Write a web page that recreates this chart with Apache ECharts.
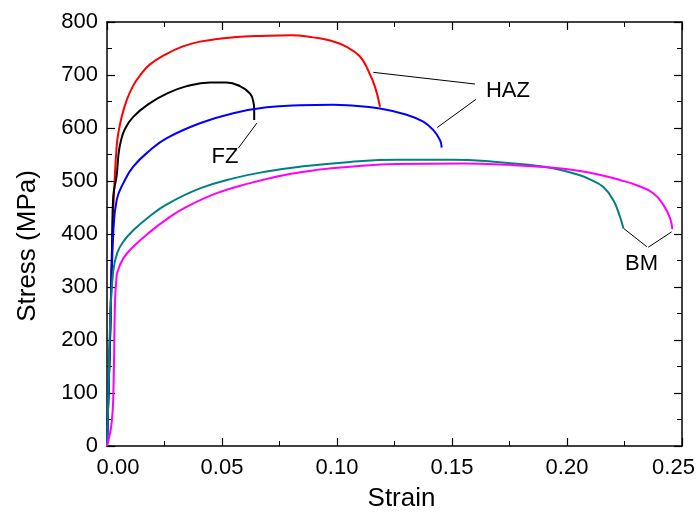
<!DOCTYPE html>
<html>
<head>
<meta charset="utf-8">
<script src="https://cdn.jsdelivr.net/npm/echarts@6/dist/echarts.min.js"></script>
<style>html,body{margin:0;padding:0;background:#fff}#c{width:698px;height:515px}</style>
</head>
<body>
<div id="c"></div>
<script>
// ---- data (strain, stress MPa) ----
var hazRed = [[0,0],[0.0006,100],[0.0013,200],[0.0025,420],[0.0033,500],[0.0042,565],[0.0049,590],[0.0064,621],[0.0086,653],[0.0114,680],[0.0143,699],[0.0187,720],[0.026,740],[0.0330,754],[0.0404,763],[0.0549,771],[0.0694,774],[0.080,775],[0.0896,771],[0.097,765],[0.1042,753],[0.110,735],[0.1135,709],[0.1165,678],[0.1187,640]];
var fzBlack = [[0,0],[0.0013,200],[0.0022,380],[0.0027,470],[0.0042,510],[0.0050,550],[0.0060,575],[0.0078,598],[0.0114,621],[0.0187,647],[0.026,665],[0.0347,679],[0.0448,686],[0.052,686],[0.0578,679],[0.0622,665],[0.0636,650],[0.0640,635],[0.0640,615]];
var hazBlue = [[0,0],[0.0013,200],[0.0027,400],[0.0042,464],[0.0071,496],[0.0114,527],[0.0187,558],[0.026,581],[0.0404,609],[0.0549,628],[0.0694,639],[0.0839,643],[0.0983,644],[0.1042,643],[0.1187,637],[0.1303,625],[0.1375,612],[0.1419,596],[0.1448,577],[0.1455,563]];
var bmTeal = [[0,0],[0.0006,100],[0.0015,250],[0.0027,330],[0.0045,365],[0.0075,388],[0.0114,407],[0.0187,434],[0.026,456],[0.0404,486],[0.0549,505],[0.0694,518],[0.0839,527],[0.1057,536],[0.1259,540],[0.1504,540],[0.1694,536],[0.1839,530],[0.1939,524],[0.2057,511],[0.2100,503],[0.2157,489],[0.2201,464],[0.2230,433],[0.2245,411]];
var bmMagenta = [[0,0],[0.0013,24],[0.0020,43],[0.0027,87],[0.0035,275],[0.0040,310],[0.0045,328],[0.0071,354],[0.0114,376],[0.0187,404],[0.026,428],[0.0332,448],[0.0477,477],[0.0622,496],[0.0767,511],[0.0912,521],[0.1057,527],[0.126,532],[0.1548,533],[0.1765,530],[0.1912,526],[0.2057,519],[0.2160,510],[0.2230,502],[0.2303,492],[0.2375,477],[0.2419,455],[0.2448,430],[0.2458,409]];
// leader lines for annotations
var leaders = [
  [[0.0651,609],[0.0571,562]],
  [[0.1158,705],[0.1600,683]],
  [[0.1436,601],[0.1604,654]],
  [[0.2245,411],[0.2347,376]],
  [[0.2455,404],[0.2353,375]]
];
var annotations = [[0.0513,546,'FZ'],[0.1743,670,'HAZ'],[0.2324,343,'BM']];
var xTicks = [0, 0.05, 0.10, 0.15, 0.20, 0.25];
var yTicks = [0, 100, 200, 300, 400, 500, 600, 700, 800];

var FONT = 'Liberation Sans, Arial, Helvetica, sans-serif';
var chart = echarts.init(document.getElementById('c'));

function curve(name, data, color) {
  return {name: name, type: 'line', data: data, showSymbol: false, symbol: 'none',
    smooth: 0.45, lineStyle: {color: color, width: 2}, z: 3, silent: true};
}
var series = [
  curve('HAZ1', hazRed, '#ff0000'),
  curve('FZ', fzBlack, '#000000'),
  curve('HAZ2', hazBlue, '#0000ff'),
  curve('BM1', bmTeal, '#008080'),
  curve('BM2', bmMagenta, '#ff00ff')
];
leaders.forEach(function (seg) {
  series.push({type: 'line', data: seg, symbol: 'none', lineStyle: {color: '#000', width: 1}, z: 2, silent: true});
});
series.push({type: 'scatter', symbolSize: 0, data: annotations, silent: true, itemStyle: {opacity: 1},
  label: {show: true, position: 'inside', formatter: function (p) { return p.data[2]; },
    color: '#000', opacity: 1, textBorderWidth: 0, fontSize: 22, fontFamily: FONT}});

var tickCommon = {
  axisLine: {show: true, onZero: false, lineStyle: {color: '#000', width: 1.5}},
  axisTick: {show: true, inside: true, length: 8, lineStyle: {color: '#000', width: 1.2}},
  minorTick: {show: true, splitNumber: 2, length: 5, lineStyle: {color: '#000', width: 1}},
  splitLine: {show: false}
};
function xAxis(pos, labels) {
  return Object.assign({
    type: 'value', position: pos, min: xTicks[0], max: xTicks[xTicks.length - 1], interval: 0.05,
    axisLabel: {show: labels, margin: 11, fontSize: 22, fontFamily: FONT, color: '#000',
      formatter: function (v) {
        var s = v.toFixed(2);
        if (Math.abs(v) < 1e-9) return '{first|' + s + '}';
        if (Math.abs(v - 0.25) < 1e-9) return '{last|' + s + '}';
        return s;
      },
      rich: {
        first: {padding: [0, 0, 0, 22], fontSize: 22, fontFamily: FONT, color: '#000'},
        last: {padding: [0, 17, 0, 0], fontSize: 22, fontFamily: FONT, color: '#000'}
      }
    },
    name: labels ? 'Strain' : '', nameLocation: 'middle', nameGap: 40,
    nameTextStyle: {fontSize: 26, fontFamily: FONT, color: '#000', padding: [0, 0, 0, 14]}
  }, tickCommon);
}
function yAxis(pos, labels) {
  return Object.assign({
    type: 'value', position: pos, min: yTicks[0], max: yTicks[yTicks.length - 1], interval: 100,
    axisLabel: {show: labels, margin: 9, fontSize: 22, fontFamily: FONT, color: '#000'},
    name: labels ? 'Stress (MPa)' : '', nameLocation: 'middle', nameGap: 66,
    nameTextStyle: {fontSize: 26, fontFamily: FONT, color: '#000', padding: [0, 24, 0, 0]}
  }, tickCommon);
}

chart.setOption({
  animation: false,
  backgroundColor: '#fff',
  grid: {left: 107, right: 16, top: 22, bottom: 69, containLabel: false, outerBoundsMode: 'none'},
  xAxis: [xAxis('bottom', true), xAxis('top', false)],
  yAxis: [yAxis('left', true), yAxis('right', false)],
  series: series
});
</script>
</body>
</html>
